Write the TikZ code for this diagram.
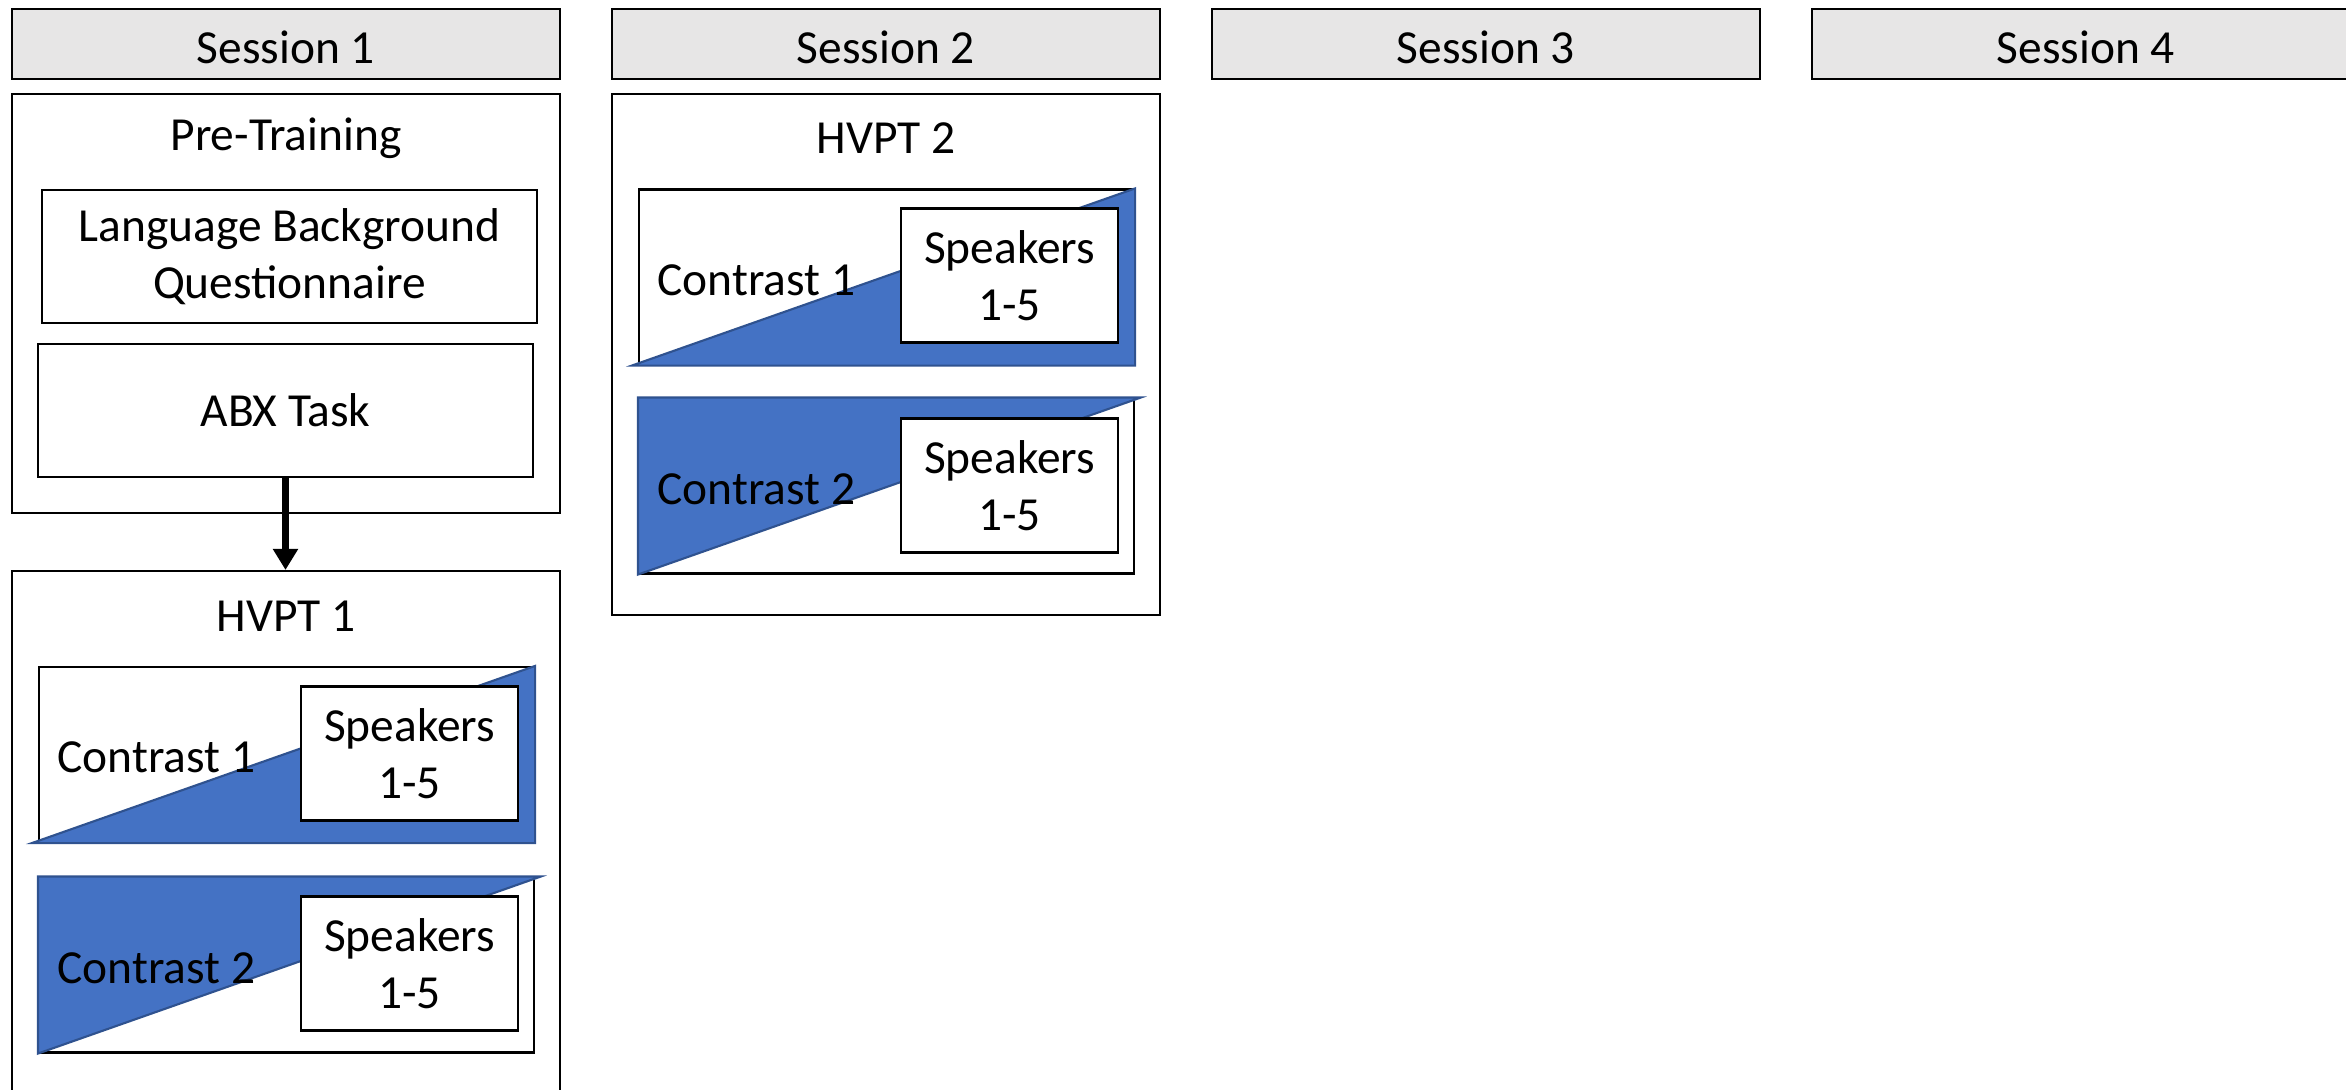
\documentclass[tikz,border=0pt]{standalone}
\usepackage{fontspec}
\setmainfont{Carlito}
\usetikzlibrary{positioning,arrows.meta}

\definecolor{hdrgray}{HTML}{E7E6E6}
\definecolor{cblue}{HTML}{4472C4}
\definecolor{cedge}{HTML}{2F528F}

\tikzset{
  txt/.style={font=\fontsize{13.5}{16.2}\selectfont, align=center},
  sessbox/.style={txt, draw, fill=hdrgray, line width=0.6pt, minimum width=5.48cm, minimum height=0.70cm, text height=0.39cm, text depth=0cm},
  panel/.style={draw, line width=0.6pt, minimum width=5.48cm},
  taskbox/.style={txt, draw, line width=0.6pt, minimum width=4.95cm, minimum height=1.33cm},
  cbox/.style={draw, fill=white, line width=0.6pt, minimum width=4.95cm, minimum height=1.75cm},
  ctxt/.style={txt, inner sep=0pt, yshift=-0.03cm},
  spk/.style={txt, draw, fill=white, line width=0.6pt, minimum width=2.17cm, minimum height=1.34cm},
  tri/.style={fill=cblue, draw=cedge, line width=0.6pt},
}

\begin{document}
\begin{tikzpicture}[x=0.1mm, y=-0.1mm]
  \useasboundingbox (0,0) rectangle (2346,1090);

  % Session headers
  \node[sessbox] (s1) at (286,44) {Session 1};
  \node[sessbox] (s2) at (886,44) {Session 2};
  \node[sessbox] (s3) at (1486,44) {Session 3};
  \node[sessbox] (s4) at (2086,44) {Session 4};

  % Pre-training
  \node[panel, minimum height=4.19cm] (pre) at (286,303.5) {};
  \node[txt] (pret) at (286,138) {Pre-Training};
  \node[taskbox] (lbq) at (289.5,256.5) {Language Background\\Questionnaire};
  \node[taskbox] (abx) at (285.5,410.5) {ABX Task};

  % HVPT 1
  \node[panel, minimum height=5.39cm] (hv1) at (286,840.5) {};
  \node[txt] (hv1t) at (286,616) {HVPT 1};
  \draw[line width=2pt, -{Triangle[length=0.21cm, width=0.24cm]}] (abx.south) -- (abx.south |- hv1.north);

  \node[cbox] (hv1c1) at (286.5,754.5) {};
  \filldraw[tri] ([xshift=-0.06cm]hv1c1.south west) -- (hv1c1.south east) -- (hv1c1.north east) -- cycle;
  \node[ctxt, right=0.19cm of hv1c1.west] (hv1c1t) {Contrast 1};
  \node[spk] (hv1s1) at (409.5,753.5) {Speakers\\1-5};

  \node[cbox] (hv1c2) at (286.5,965) {};
  \filldraw[tri] (hv1c2.north west) -- ([xshift=0.06cm]hv1c2.north east) -- (hv1c2.south west) -- cycle;
  \node[ctxt, right=0.19cm of hv1c2.west] (hv1c2t) {Contrast 2};
  \node[spk] (hv1s2) at (409.5,963.5) {Speakers\\1-5};

  % HVPT 2
  \node[panel, minimum height=5.21cm] (hv2) at (886,354.5) {};
  \node[txt] (hv2t) at (886,138) {HVPT 2};

  \node[cbox] (hv2c1) at (886.5,277) {};
  \filldraw[tri] ([xshift=-0.06cm]hv2c1.south west) -- (hv2c1.south east) -- (hv2c1.north east) -- cycle;
  \node[ctxt, right=0.19cm of hv2c1.west] (hv2c1t) {Contrast 1};
  \node[spk] (hv2s1) at (1009.5,275.5) {Speakers\\1-5};

  \node[cbox] (hv2c2) at (886.5,486) {};
  \filldraw[tri] (hv2c2.north west) -- ([xshift=0.06cm]hv2c2.north east) -- (hv2c2.south west) -- cycle;
  \node[ctxt, right=0.19cm of hv2c2.west] (hv2c2t) {Contrast 2};
  \node[spk] (hv2s2) at (1009.5,485.5) {Speakers\\1-5};

\end{tikzpicture}
\end{document}
